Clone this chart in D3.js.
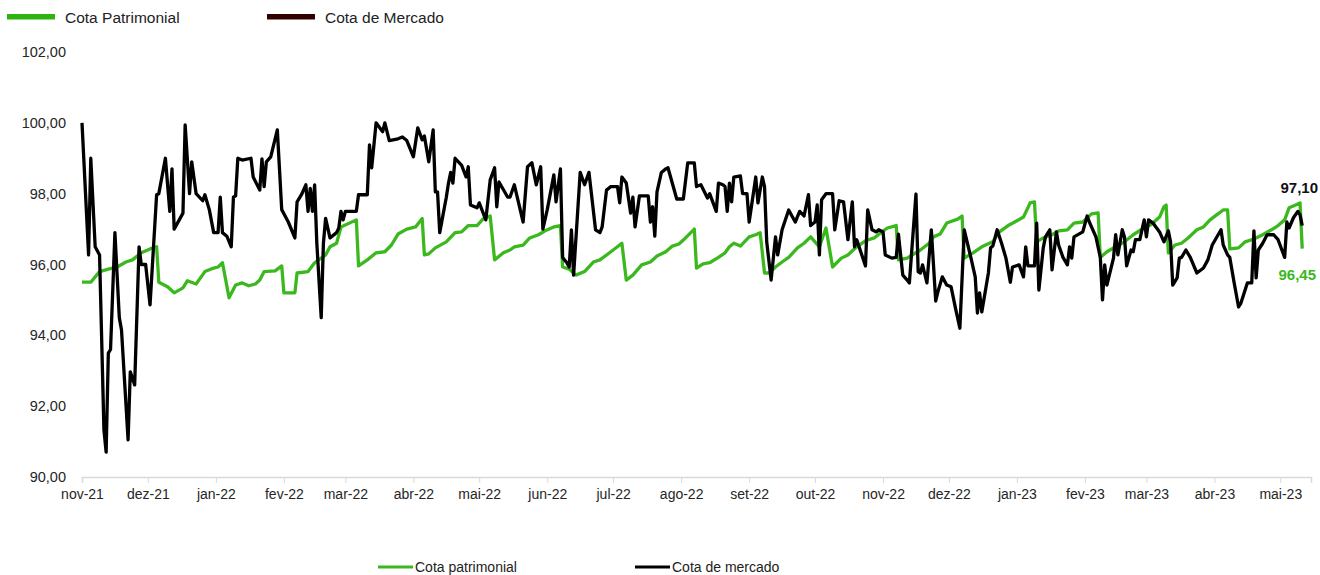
<!DOCTYPE html>
<html lang="pt-BR">
<head>
<meta charset="UTF-8">
<title>Cota patrimonial x Cota de mercado</title>
<script src="https://cdn.jsdelivr.net/npm/d3@7"></script>
<style>
  body { margin: 0; background: #fff; }
  text { font-family: "Liberation Sans", Arial, sans-serif; }
</style>
</head>
<body>
<script>
var w = 1320, h = 575

// rótulos
var monthNames = ['jan', 'fev', 'mar', 'abr', 'mai', 'jun', 'jul', 'ago', 'set', 'out', 'nov', 'dez']
var yTicks = [90, 92, 94, 96, 98, 100, 102]
var topLegend = ['Cota Patrimonial', 'Cota de Mercado']
var bottomLegend = ['Cota patrimonial', 'Cota de mercado']

// cota patrimonial (data, valor)
var cotaPatrimonial = [
  ['2021-11-01', 95.50], ['2021-11-05', 95.50], ['2021-11-09', 95.80], ['2021-11-13', 95.87], ['2021-11-17', 95.93],
  ['2021-11-21', 96.07], ['2021-11-24', 96.13], ['2021-11-28', 96.33], ['2021-12-02', 96.44], ['2021-12-05', 96.50],
  ['2021-12-06', 95.50], ['2021-12-10', 95.37], ['2021-12-13', 95.20], ['2021-12-17', 95.34], ['2021-12-19', 95.54],
  ['2021-12-23', 95.45], ['2021-12-27', 95.80], ['2021-12-31', 95.90], ['2022-01-02', 95.93], ['2022-01-04', 96.05],
  ['2022-01-07', 95.06], ['2022-01-10', 95.42], ['2022-01-13', 95.48], ['2022-01-16', 95.40], ['2022-01-19', 95.45],
  ['2022-01-21', 95.56], ['2022-01-23', 95.80], ['2022-01-28', 95.82], ['2022-01-31', 95.96], ['2022-02-01', 95.20],
  ['2022-02-06', 95.20], ['2022-02-07', 95.76], ['2022-02-12', 95.80], ['2022-02-15', 96.05], ['2022-02-20', 96.27],
  ['2022-02-22', 96.50], ['2022-02-25', 96.60], ['2022-02-27', 97.06], ['2022-03-06', 97.26], ['2022-03-07', 95.96],
  ['2022-03-11', 96.13], ['2022-03-15', 96.33], ['2022-03-19', 96.36], ['2022-03-22', 96.55], ['2022-03-25', 96.86],
  ['2022-03-29', 97.00], ['2022-04-02', 97.06], ['2022-04-05', 97.30], ['2022-04-06', 96.27], ['2022-04-08', 96.30],
  ['2022-04-11', 96.47], ['2022-04-16', 96.64], ['2022-04-20', 96.90], ['2022-04-23', 96.92], ['2022-04-26', 97.10],
  ['2022-04-30', 97.10], ['2022-05-03', 97.30], ['2022-05-06', 97.37], ['2022-05-08', 96.13], ['2022-05-12', 96.33],
  ['2022-05-15', 96.41], ['2022-05-17', 96.50], ['2022-05-21', 96.55], ['2022-05-24', 96.75], ['2022-05-28', 96.84],
  ['2022-05-31', 96.95], ['2022-06-04', 97.06], ['2022-06-07', 97.10], ['2022-06-08', 95.93], ['2022-06-11', 95.87],
  ['2022-06-14', 95.70], ['2022-06-18', 95.80], ['2022-06-22', 96.07], ['2022-06-25', 96.13], ['2022-06-30', 96.36],
  ['2022-07-05', 96.60], ['2022-07-07', 95.56], ['2022-07-10', 95.70], ['2022-07-14', 95.99], ['2022-07-18', 96.07],
  ['2022-07-21', 96.24], ['2022-07-25', 96.36], ['2022-07-28', 96.52], ['2022-07-31', 96.58], ['2022-08-03', 96.75],
  ['2022-08-07', 97.00], ['2022-08-08', 95.90], ['2022-08-11', 96.02], ['2022-08-14', 96.05], ['2022-08-18', 96.20],
  ['2022-08-21', 96.33], ['2022-08-23', 96.50], ['2022-08-25', 96.60], ['2022-08-28', 96.52], ['2022-09-01', 96.78],
  ['2022-09-04', 96.84], ['2022-09-06', 96.90], ['2022-09-08', 95.76], ['2022-09-10', 95.76], ['2022-09-13', 95.93],
  ['2022-09-16', 96.07], ['2022-09-19', 96.20], ['2022-09-23', 96.47], ['2022-09-26', 96.60], ['2022-09-29', 96.78],
  ['2022-10-03', 96.50], ['2022-10-06', 97.03], ['2022-10-09', 95.93], ['2022-10-13', 96.18], ['2022-10-16', 96.27],
  ['2022-10-20', 96.50], ['2022-10-24', 96.67], ['2022-10-28', 96.75], ['2022-10-31', 96.90], ['2022-11-03', 97.03],
  ['2022-11-07', 97.10], ['2022-11-08', 96.13], ['2022-11-12', 96.18], ['2022-11-18', 96.41], ['2022-11-22', 96.60],
  ['2022-11-24', 96.78], ['2022-11-27', 96.86], ['2022-11-30', 97.17], ['2022-12-05', 97.28], ['2022-12-07', 97.37],
  ['2022-12-08', 96.18], ['2022-12-12', 96.33], ['2022-12-16', 96.50], ['2022-12-21', 96.64], ['2022-12-24', 96.92],
  ['2022-12-28', 97.10], ['2022-12-31', 97.20], ['2023-01-04', 97.34], ['2023-01-06', 97.60], ['2023-01-07', 97.74],
  ['2023-01-09', 97.77], ['2023-01-10', 96.64], ['2023-01-13', 96.75], ['2023-01-17', 96.84], ['2023-01-20', 96.95],
  ['2023-01-24', 96.98], ['2023-01-27', 97.17], ['2023-01-31', 97.20], ['2023-02-04', 97.43], ['2023-02-07', 97.46],
  ['2023-02-08', 96.20], ['2023-02-11', 96.36], ['2023-02-15', 96.50], ['2023-02-19', 96.64], ['2023-02-23', 96.84],
  ['2023-02-27', 97.00], ['2023-03-03', 97.12], ['2023-03-07', 97.34], ['2023-03-09', 97.63], ['2023-03-10', 97.68],
  ['2023-03-11', 96.33], ['2023-03-14', 96.55], ['2023-03-17', 96.60], ['2023-03-20', 96.75], ['2023-03-24', 96.98],
  ['2023-03-27', 97.06], ['2023-03-30', 97.26], ['2023-04-02', 97.40], ['2023-04-05', 97.54], ['2023-04-07', 97.54],
  ['2023-04-08', 96.44], ['2023-04-12', 96.47], ['2023-04-15', 96.64], ['2023-04-19', 96.72], ['2023-04-23', 96.84],
  ['2023-04-27', 96.98], ['2023-04-30', 97.10], ['2023-05-03', 97.26], ['2023-05-05', 97.60], ['2023-05-08', 97.68],
  ['2023-05-10', 97.74], ['2023-05-11', 96.45]
]

// cota de mercado (data, valor)
var cotaMercado = [
  ['2021-11-01', 100.00], ['2021-11-04', 96.27], ['2021-11-05', 99.00], ['2021-11-07', 96.50], ['2021-11-09', 96.27],
  ['2021-11-11', 91.33], ['2021-11-12', 90.70], ['2021-11-13', 93.50], ['2021-11-14', 93.60], ['2021-11-16', 96.90],
  ['2021-11-18', 94.50], ['2021-11-19', 94.15], ['2021-11-22', 91.05], ['2021-11-23', 92.97], ['2021-11-25', 92.60],
  ['2021-11-27', 96.50], ['2021-11-28', 96.00], ['2021-11-30', 96.00], ['2021-12-02', 94.86], ['2021-12-05', 97.97],
  ['2021-12-06', 98.00], ['2021-12-09', 99.00], ['2021-12-11', 97.50], ['2021-12-12', 98.70], ['2021-12-13', 97.00],
  ['2021-12-17', 97.45], ['2021-12-18', 99.94], ['2021-12-20', 98.00], ['2021-12-21', 98.90], ['2021-12-23', 98.00],
  ['2021-12-26', 97.80], ['2021-12-27', 97.97], ['2021-12-29', 97.55], ['2021-12-31', 96.90], ['2022-01-02', 96.90],
  ['2022-01-03', 97.90], ['2022-01-04', 96.90], ['2022-01-06', 96.80], ['2022-01-08', 96.50], ['2022-01-09', 97.90],
  ['2022-01-10', 97.94], ['2022-01-11', 99.00], ['2022-01-13', 98.95], ['2022-01-17', 99.00], ['2022-01-18', 98.47],
  ['2022-01-21', 98.10], ['2022-01-22', 98.98], ['2022-01-23', 98.20], ['2022-01-24', 98.90], ['2022-01-26', 99.04],
  ['2022-01-29', 99.80], ['2022-01-31', 97.55], ['2022-02-03', 97.20], ['2022-02-06', 96.75], ['2022-02-07', 97.77],
  ['2022-02-09', 97.97], ['2022-02-11', 98.25], ['2022-02-12', 97.50], ['2022-02-13', 98.15], ['2022-02-14', 97.50],
  ['2022-02-15', 98.25], ['2022-02-16', 96.60], ['2022-02-18', 94.50], ['2022-02-19', 96.60], ['2022-02-20', 97.30],
  ['2022-02-22', 96.75], ['2022-02-25', 96.90], ['2022-02-26', 97.03], ['2022-02-27', 97.50], ['2022-02-28', 97.26],
  ['2022-03-01', 97.50], ['2022-03-06', 97.50], ['2022-03-07', 97.97], ['2022-03-11', 97.97], ['2022-03-12', 99.38],
  ['2022-03-13', 98.73], ['2022-03-15', 100.00], ['2022-03-18', 99.75], ['2022-03-19', 100.00], ['2022-03-21', 99.50],
  ['2022-03-25', 99.55], ['2022-03-27', 99.60], ['2022-03-29', 99.50], ['2022-04-01', 99.04], ['2022-04-03', 99.86],
  ['2022-04-05', 99.52], ['2022-04-06', 99.63], ['2022-04-08', 98.90], ['2022-04-10', 99.80], ['2022-04-11', 98.05],
  ['2022-04-12', 98.05], ['2022-04-13', 96.90], ['2022-04-16', 97.90], ['2022-04-17', 98.30], ['2022-04-18', 98.60],
  ['2022-04-19', 98.30], ['2022-04-20', 99.00], ['2022-04-23', 98.80], ['2022-04-25', 98.47], ['2022-04-26', 98.76],
  ['2022-04-27', 97.68], ['2022-04-30', 97.60], ['2022-05-01', 97.74], ['2022-05-04', 97.26], ['2022-05-06', 98.39],
  ['2022-05-08', 98.73], ['2022-05-09', 97.63], ['2022-05-10', 98.33], ['2022-05-14', 97.90], ['2022-05-15', 97.90],
  ['2022-05-17', 98.25], ['2022-05-21', 97.20], ['2022-05-23', 98.76], ['2022-05-25', 98.87], ['2022-05-27', 98.25],
  ['2022-05-29', 98.76], ['2022-05-30', 97.00], ['2022-06-01', 97.55], ['2022-06-04', 98.53], ['2022-06-05', 97.77],
  ['2022-06-07', 98.70], ['2022-06-08', 96.20], ['2022-06-10', 96.04], ['2022-06-11', 95.93], ['2022-06-12', 96.98],
  ['2022-06-13', 95.70], ['2022-06-16', 98.60], ['2022-06-18', 98.25], ['2022-06-20', 98.60], ['2022-06-23', 96.98],
  ['2022-06-25', 96.90], ['2022-06-26', 97.06], ['2022-06-28', 98.10], ['2022-06-30', 98.20], ['2022-07-03', 98.20],
  ['2022-07-04', 97.74], ['2022-07-05', 98.47], ['2022-07-07', 98.30], ['2022-07-09', 97.45], ['2022-07-10', 97.90],
  ['2022-07-11', 97.06], ['2022-07-13', 97.94], ['2022-07-17', 97.94], ['2022-07-18', 97.20], ['2022-07-19', 97.63],
  ['2022-07-20', 96.80], ['2022-07-21', 98.05], ['2022-07-23', 98.60], ['2022-07-25', 98.70], ['2022-07-26', 98.73],
  ['2022-07-30', 97.85], ['2022-08-02', 97.85], ['2022-08-04', 98.87], ['2022-08-07', 98.87], ['2022-08-08', 98.20],
  ['2022-08-10', 98.25], ['2022-08-13', 97.88], ['2022-08-14', 98.00], ['2022-08-17', 97.50], ['2022-08-18', 98.30],
  ['2022-08-20', 98.25], ['2022-08-21', 98.20], ['2022-08-22', 97.50], ['2022-08-23', 98.30], ['2022-08-24', 97.77],
  ['2022-08-25', 98.47], ['2022-08-28', 98.50], ['2022-08-29', 98.00], ['2022-08-31', 98.00], ['2022-09-01', 97.20],
  ['2022-09-04', 98.47], ['2022-09-05', 97.74], ['2022-09-07', 98.47], ['2022-09-08', 98.20], ['2022-09-09', 96.64],
  ['2022-09-11', 95.56], ['2022-09-13', 96.78], ['2022-09-14', 96.27], ['2022-09-16', 96.98], ['2022-09-19', 97.54],
  ['2022-09-22', 97.20], ['2022-09-24', 97.50], ['2022-09-26', 97.37], ['2022-09-28', 97.97], ['2022-09-29', 97.10],
  ['2022-10-01', 97.20], ['2022-10-02', 97.68], ['2022-10-03', 96.27], ['2022-10-04', 97.83], ['2022-10-06', 98.00],
  ['2022-10-09', 98.00], ['2022-10-10', 96.98], ['2022-10-12', 97.80], ['2022-10-14', 97.77], ['2022-10-16', 96.70],
  ['2022-10-18', 97.77], ['2022-10-19', 96.50], ['2022-10-20', 96.70], ['2022-10-24', 95.96], ['2022-10-25', 97.54],
  ['2022-10-27', 96.98], ['2022-10-29', 96.92], ['2022-10-30', 96.98], ['2022-11-01', 96.92], ['2022-11-02', 96.27],
  ['2022-11-05', 96.18], ['2022-11-07', 96.20], ['2022-11-08', 96.86], ['2022-11-10', 95.70], ['2022-11-12', 95.56],
  ['2022-11-13', 95.48], ['2022-11-16', 97.99], ['2022-11-17', 95.80], ['2022-11-18', 95.76], ['2022-11-19', 95.99],
  ['2022-11-21', 95.48], ['2022-11-23', 96.98], ['2022-11-25', 94.97], ['2022-11-26', 95.23], ['2022-11-28', 95.65],
  ['2022-11-30', 95.42], ['2022-12-02', 95.37], ['2022-12-04', 94.77], ['2022-12-06', 94.20], ['2022-12-08', 96.98],
  ['2022-12-11', 96.20], ['2022-12-13', 95.65], ['2022-12-14', 94.63], ['2022-12-15', 95.20], ['2022-12-16', 94.66],
  ['2022-12-19', 95.76], ['2022-12-20', 96.47], ['2022-12-21', 96.52], ['2022-12-23', 96.98], ['2022-12-25', 96.60],
  ['2022-12-27', 96.18], ['2022-12-29', 95.50], ['2022-12-30', 95.93], ['2023-01-02', 95.99], ['2023-01-04', 95.65],
  ['2023-01-05', 96.50], ['2023-01-06', 95.96], ['2023-01-09', 95.96], ['2023-01-10', 97.17], ['2023-01-11', 95.28],
  ['2023-01-13', 96.47], ['2023-01-14', 96.78], ['2023-01-16', 96.98], ['2023-01-17', 95.85], ['2023-01-19', 96.92],
  ['2023-01-20', 96.55], ['2023-01-22', 96.20], ['2023-01-24', 95.99], ['2023-01-25', 96.50], ['2023-01-26', 96.18],
  ['2023-01-27', 96.78], ['2023-01-31', 96.92], ['2023-02-02', 97.37], ['2023-02-03', 97.20], ['2023-02-06', 96.78],
  ['2023-02-08', 96.20], ['2023-02-09', 95.00], ['2023-02-10', 95.99], ['2023-02-11', 95.42], ['2023-02-14', 96.18],
  ['2023-02-15', 96.84], ['2023-02-16', 96.27], ['2023-02-18', 96.98], ['2023-02-19', 96.78], ['2023-02-20', 95.96],
  ['2023-02-22', 96.41], ['2023-02-23', 96.36], ['2023-02-24', 96.70], ['2023-02-26', 96.70], ['2023-02-28', 97.26],
  ['2023-03-01', 96.78], ['2023-03-02', 97.26], ['2023-03-04', 97.17], ['2023-03-07', 96.92], ['2023-03-09', 96.64],
  ['2023-03-11', 96.95], ['2023-03-12', 96.64], ['2023-03-13', 95.42], ['2023-03-15', 95.62], ['2023-03-16', 96.18],
  ['2023-03-17', 96.20], ['2023-03-19', 96.41], ['2023-03-21', 96.20], ['2023-03-24', 95.76], ['2023-03-27', 95.90],
  ['2023-03-29', 96.13], ['2023-03-31', 96.55], ['2023-04-04', 96.98], ['2023-04-05', 96.55], ['2023-04-07', 96.27],
  ['2023-04-08', 96.20], ['2023-04-10', 95.48], ['2023-04-12', 94.80], ['2023-04-13', 94.90], ['2023-04-16', 95.48],
  ['2023-04-18', 95.48], ['2023-04-19', 96.95], ['2023-04-20', 95.62], ['2023-04-21', 96.41], ['2023-04-23', 96.60],
  ['2023-04-25', 96.84], ['2023-04-28', 96.84], ['2023-04-30', 96.70], ['2023-05-03', 96.20], ['2023-05-04', 97.20],
  ['2023-05-05', 97.03], ['2023-05-07', 97.32], ['2023-05-09', 97.50], ['2023-05-10', 97.40], ['2023-05-11', 97.10]
]

var verde = '#3cb81f'
var parse = d3.utcParse('%Y-%m-%d')
var br = d3.formatLocale({ decimal: ',', thousands: '.', grouping: [3], currency: ['R$', ''] })
var fmt = br.format('.2f')

var xScale = d3.scaleUtc().domain([parse('2021-11-01'), parse('2023-05-15')]).range([82, 1311])
var yScale = d3.scaleLinear().domain([90, 102]).range([477, 52])

var svg = d3.select('body').append('svg').attr('width', w).attr('height', h)

// eixo y (só rótulos)
svg.append('g').selectAll('text').data(yTicks).enter().append('text')
  .attr('x', 66).attr('y', function (d) { return yScale(d) })
  .attr('dy', '0.35em').attr('text-anchor', 'end')
  .attr('font-size', '14.5px').attr('fill', '#262626')
  .text(function (d) { return fmt(d) })

// eixo x
var xAxis = d3.axisBottom(xScale)
  .ticks(d3.utcMonth.every(1))
  .tickSize(6).tickPadding(6)
  .tickFormat(function (d) { return monthNames[d.getUTCMonth()] + '-' + String(d.getUTCFullYear()).slice(2) })
var gx = svg.append('g').attr('transform', 'translate(0,477)').call(xAxis)
gx.select('.domain').attr('stroke', '#d9d9d9').attr('stroke-width', 1.5)
gx.selectAll('.tick line').attr('stroke', '#d9d9d9')
gx.selectAll('.tick text').attr('font-size', '14px').attr('fill', '#262626')
  .attr('font-family', '"Liberation Sans", Arial, sans-serif')

// linhas
var line = d3.line()
  .x(function (d) { return xScale(parse(d[0])) })
  .y(function (d) { return yScale(d[1]) })

svg.append('path').datum(cotaPatrimonial).attr('d', line)
  .attr('fill', 'none').attr('stroke', verde).attr('stroke-width', 3.3).attr('stroke-linejoin', 'round')
svg.append('path').datum(cotaMercado).attr('d', line)
  .attr('fill', 'none').attr('stroke', '#000').attr('stroke-width', 3.3).attr('stroke-linejoin', 'round')

// rótulos finais
var lastM = cotaMercado[cotaMercado.length - 1]
var lastP = cotaPatrimonial[cotaPatrimonial.length - 1]
svg.append('text').attr('x', 1318).attr('y', 193).attr('text-anchor', 'end')
  .attr('font-size', '15px').attr('font-weight', 'bold').attr('fill', '#111')
  .text(fmt(lastM[1]))
svg.append('text').attr('x', 1316).attr('y', 280).attr('text-anchor', 'end')
  .attr('font-size', '15px').attr('font-weight', 'bold').attr('fill', verde)
  .text(fmt(lastP[1]))

// legenda de cima
var topColors = ['#2eb30f', '#330000']
var topX = [7, 267]
topLegend.forEach(function (name, i) {
  svg.append('rect').attr('x', topX[i]).attr('y', 14).attr('width', 48).attr('height', 5.5).attr('fill', topColors[i])
  svg.append('text').attr('x', topX[i] + 58).attr('y', 23).attr('font-size', '15.5px').attr('fill', '#222')
    .attr('font-family', 'Inter, "Liberation Sans", sans-serif').text(name)
})

// legenda de baixo
var bottomColors = [verde, '#000']
var bottomX = [378, 635]
bottomLegend.forEach(function (name, i) {
  svg.append('line').attr('x1', bottomX[i]).attr('x2', bottomX[i] + 35).attr('y1', 567).attr('y2', 567)
    .attr('stroke', bottomColors[i]).attr('stroke-width', 3)
  svg.append('text').attr('x', bottomX[i] + 37).attr('y', 572).attr('font-size', '14px').attr('fill', '#222')
    .text(name)
})
</script>
</body>
</html>
